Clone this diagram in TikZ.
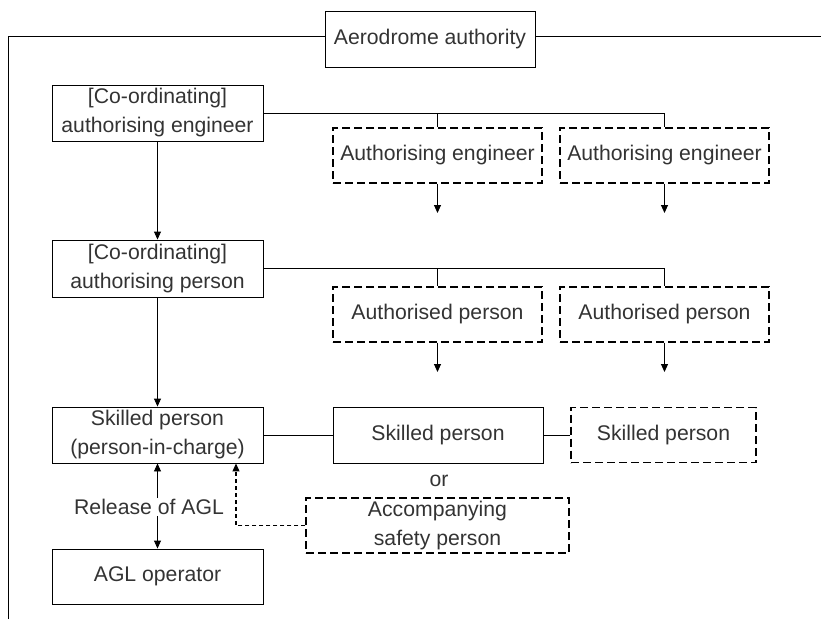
\documentclass[tikz,border=0pt]{standalone}
\usepackage{fontspec}
\setmainfont{Liberation Sans}
\usetikzlibrary{arrows.meta}
\definecolor{txt}{HTML}{333333}
\begin{document}
\begin{tikzpicture}[x=1pt,y=-1pt,
  box/.style={draw=black,line width=0.9pt,inner sep=0pt,align=center,text=txt,
    font=\fontsize{21.2}{29}\selectfont},
  dbox/.style={box,dash pattern=on 8pt off 4pt,line width=1.3pt},
  conn/.style={draw=black,line width=0.9pt},
  arr/.style={conn,-{Triangle[length=8pt,width=7pt]}},
  lbl/.style={text=txt,inner sep=1pt,font=\fontsize{21.2}{29}\selectfont}]
\useasboundingbox (0,0) rectangle (821,619);
% nodes
\node[box,minimum width=210pt,minimum height=56pt] (auth) at (430,39.5) {Aerodrome authority};
\node[box,minimum width=211pt,minimum height=56pt] (cae) at (157.5,113) {[Co-ordinating]\\authorising engineer};
\node[dbox,minimum width=209pt,minimum height=55pt] (ae1) at (437.5,155.5) {Authorising engineer};
\node[dbox,minimum width=209pt,minimum height=55pt] (ae2) at (664.5,155.5) {Authorising engineer};
\node[box,minimum width=211pt,minimum height=57pt] (cap) at (157.5,268.5) {[Co-ordinating]\\authorising person};
\node[dbox,minimum width=209pt,minimum height=55pt] (ap1) at (437.5,314.5) {Authorised person};
\node[dbox,minimum width=209pt,minimum height=55pt] (ap2) at (664.5,314.5) {Authorised person};
\node[box,minimum width=211pt,minimum height=56pt] (sp) at (157.5,435) {Skilled person\\(person-in-charge)};
\node[box,minimum width=210pt,minimum height=56pt] (sk1) at (438,435) {Skilled person};
\node[dbox,minimum width=185pt,minimum height=55pt] (sk2) at (663.5,435) {Skilled person};
\node[lbl] (or) at (439,481) {or};
\node[dbox,minimum width=263pt,minimum height=55pt] (acc) at (437.5,525.5) {Accompanying\\safety person};
\node[box,minimum width=211pt,minimum height=55pt] (agl) at (157.5,576.5) {AGL operator};
\node[lbl] (rel) at (149,507) {Release of AGL};
% coordinates
\coordinate (lb) at (8,619);
\coordinate (lt) at (8,36);
\coordinate (rt) at (821,36);
\coordinate (ae1d) at (437.5,213);
\coordinate (ae2d) at (664.5,213);
\coordinate (ap1d) at (437.5,372);
\coordinate (ap2d) at (664.5,372);
% outer frame line
\draw[conn] (lb) -- (lt) -- (lt -| auth.west);
\draw[conn] (rt -| auth.east) -- (rt);
% engineer level
\draw[conn] (cae.east) -| (ae2.north);
\draw[conn] (ae1.north |- cae.east) -- (ae1.north);
\draw[arr] (ae1.south) -- (ae1d);
\draw[arr] (ae2.south) -- (ae2d);
\draw[arr] (cae.south) -- (cap.north);
% person level
\draw[conn] (cap.east) -| (ap2.north);
\draw[conn] (ap1.north |- cap.east) -- (ap1.north);
\draw[arr] (ap1.south) -- (ap1d);
\draw[arr] (ap2.south) -- (ap2d);
\draw[arr] (cap.south) -- (sp.north);
% skilled level
\draw[conn] (sp.east) -- (sk1.west);
\draw[conn] (sk1.east) -- (sk2.west);
\draw[arr] (rel.north -| sp.south) -- (sp.south);
\draw[arr] (rel.south -| agl.north) -- (agl.north);
\draw[arr,dash pattern=on 4pt off 3pt,line width=1.1pt] (acc.west) -| ([xshift=78.5pt]sp.south);
\end{tikzpicture}
\end{document}
